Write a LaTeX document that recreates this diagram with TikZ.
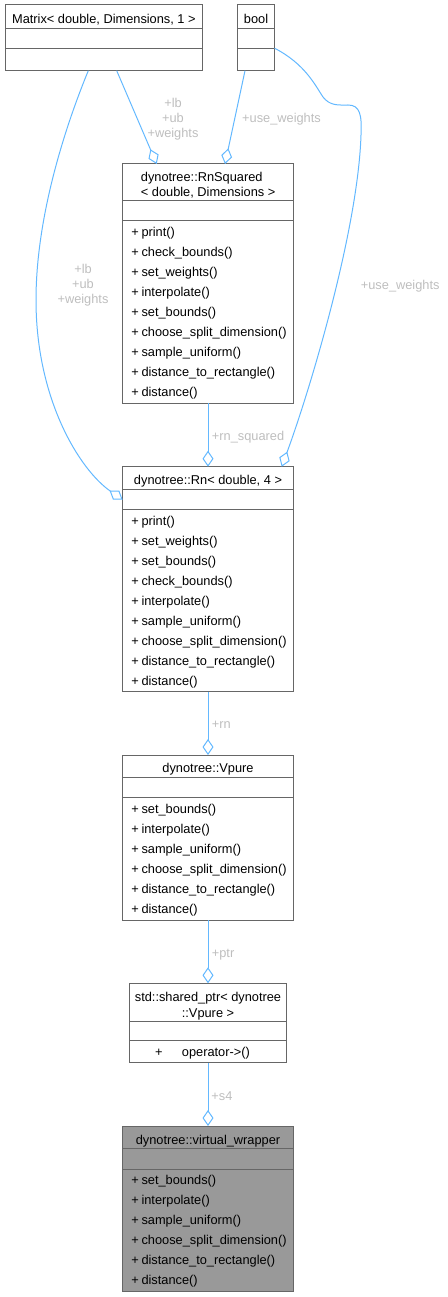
\documentclass[tikz,border=0pt]{standalone}
\usepackage{fontspec}
\setmainfont{Liberation Sans}
\usetikzlibrary{arrows.meta}
\definecolor{boxgray}{HTML}{666666}
\definecolor{edgeblue}{HTML}{63B8FF}
\definecolor{lblgray}{HTML}{BEBEBE}
\definecolor{vwfill}{HTML}{999999}
\begin{document}
\begin{tikzpicture}[x=1pt,y=-1pt,
 cls/.style={draw=boxgray, line width=1pt, fill=white, inner sep=0pt, outer sep=0pt, anchor=north west},
 sepline/.style={draw=boxgray, line width=1pt},
 txt/.style={inner sep=0pt, font=\fontsize{12.8pt}{15pt}\selectfont, text height=9.2pt, text depth=2.7pt},
 lbl/.style={txt, text=lblgray},
 lblm/.style={inner sep=0pt, font=\fontsize{12.8pt}{15pt}\selectfont, text=lblgray, align=center},
 edge/.style={draw=edgeblue, line width=1pt, -{Diamond[open, length=16pt, width=11pt]}},
]
\useasboundingbox (0,0) rectangle (447,1297);

% ---------- boxes ----------
\node[cls, minimum width=197.7pt, minimum height=65.7pt] (matrix) at (5,5) {};
\draw[sepline] (5,28.3) -- (202.7,28.3) (5,48.3) -- (202.7,48.3);
\node[txt] (matrixT) at (103.9,20.3) {Matrix< double, Dimensions, 1 >};

\node[cls, minimum width=37.4pt, minimum height=65.7pt] (bool) at (237.3,5) {};
\draw[sepline] (237.3,28.3) -- (274.7,28.3) (237.3,48.3) -- (274.7,48.3);
\node[txt] (boolT) at (256,20.3) {bool};

\node[cls, minimum width=170.6pt, minimum height=239.3pt] (rnsq) at (122.7,164) {};
\draw[sepline] (122.7,200.7) -- (293.3,200.7) (122.7,220.7) -- (293.3,220.7);
\node[inner sep=0pt, font=\fontsize{12.8pt}{15pt}\selectfont, align=left, anchor=north west] (rnsqT) at (140.7,172) {dynotree::RnSquared\\< double, Dimensions >};
\foreach \m [count=\i from 0] in {print(),check\_bounds(),set\_weights(),interpolate(),set\_bounds(),choose\_split\_dimension(),sample\_uniform(),distance\_to\_rectangle(),distance()}{
  \node[txt, anchor=west] (rnsqP\i) at (131.2,233+20*\i) {+};
  \node[txt, anchor=west] (rnsqM\i) at (141.3,233+20*\i) {\m};
}

\node[cls, minimum width=170.6pt, minimum height=225pt] (rn) at (122.7,466.7) {};
\draw[sepline] (122.7,489.3) -- (293.3,489.3) (122.7,509.3) -- (293.3,509.3);
\node[txt] (rnT) at (208,481.3) {dynotree::Rn< double, 4 >};
\foreach \m [count=\i from 0] in {print(),set\_weights(),set\_bounds(),check\_bounds(),interpolate(),sample\_uniform(),choose\_split\_dimension(),distance\_to\_rectangle(),distance()}{
  \node[txt, anchor=west] (rnP\i) at (131.2,521.8+20*\i) {+};
  \node[txt, anchor=west] (rnM\i) at (141.3,521.8+20*\i) {\m};
}

\node[cls, minimum width=170.6pt, minimum height=165pt] (vpure) at (122.7,755) {};
\draw[sepline] (122.7,777.7) -- (293.3,777.7) (122.7,797.3) -- (293.3,797.3);
\node[txt] (vpureT) at (208,769.6) {dynotree::Vpure};
\foreach \m [count=\i from 0] in {set\_bounds(),interpolate(),sample\_uniform(),choose\_split\_dimension(),distance\_to\_rectangle(),distance()}{
  \node[txt, anchor=west] (vpureP\i) at (131.2,810.3+20*\i) {+};
  \node[txt, anchor=west] (vpureM\i) at (141.3,810.3+20*\i) {\m};
}

\node[cls, minimum width=157.4pt, minimum height=79.4pt] (sptr) at (129.3,983.3) {};
\draw[sepline] (129.3,1021) -- (286.7,1021) (129.3,1040.7) -- (286.7,1040.7);
\node[inner sep=0pt, font=\fontsize{12.8pt}{15.6pt}\selectfont, align=center, anchor=north] (sptrT) at (208,992) {std::shared\_ptr< dynotree\\::Vpure >};
\node[txt, anchor=west] (sptrP) at (155,1053) {+};
\node[txt, anchor=west] (sptrM) at (181.7,1053) {operator->()};

\node[cls, fill=vwfill, minimum width=170.6pt, minimum height=165.7pt] (vw) at (122.7,1126) {};
\draw[sepline] (122.7,1148.3) -- (293.3,1148.3) (122.7,1169) -- (293.3,1169);
\node[txt] (vwT) at (208,1141.3) {dynotree::virtual\_wrapper};
\foreach \m [count=\i from 0] in {set\_bounds(),interpolate(),sample\_uniform(),choose\_split\_dimension(),distance\_to\_rectangle(),distance()}{
  \node[txt, anchor=west] (vwP\i) at (131.2,1181.3+20*\i) {+};
  \node[txt, anchor=west] (vwM\i) at (141.3,1181.3+20*\i) {\m};
}

% ---------- connectors ----------
\draw[edge] ([xshift=111.7pt]matrix.south west) -- ([xshift=34pt]rnsq.north west);
\draw[edge] ([xshift=7.7pt]bool.south west) -- ([xshift=102.3pt]rnsq.north west);
\draw[edge] ([xshift=83.3pt]matrix.south west) .. controls (70,115) and (36,210) .. (36,300)
   .. controls (36,400) and (80,470) .. ([yshift=-33pt]rn.north west);
\draw[edge] ([yshift=-43.3pt]bool.north east) .. controls (305,64) and (315,85) .. (323,97)
   .. controls (330,106) and (338,105) .. (348,105)
   .. controls (360,105) and (362,115) .. (361,135)
   .. controls (358,230) and (310,390) .. ([xshift=-11.6pt]rn.north east);
\draw[edge] (rnsq.south) -- (rn.north);
\draw[edge] (rn.south) -- (vpure.north);
\draw[edge] (vpure.south) -- (sptr.north);
\draw[edge] (sptr.south) -- (vw.north);

% ---------- connector labels ----------
\node[lblm] (l1) at (173,119) {+lb\\+ub\\+weights};
\node[lbl, anchor=west] (l2) at (242,119.3) {+use\_weights};
\node[lblm] (l3) at (83,285.6) {+lb\\+ub\\+weights};
\node[lbl, anchor=west] (l4) at (360.7,286.3) {+use\_weights};
\node[lbl, anchor=west] (l5) at (211.7,437.3) {+rn\_squared};
\node[lbl, anchor=west] (l6) at (211.7,725.3) {+rn};
\node[lbl, anchor=west] (l7) at (211.7,954.6) {+ptr};
\node[lbl, anchor=west] (l8) at (211.2,1097.3) {+s4};
\end{tikzpicture}
\end{document}
